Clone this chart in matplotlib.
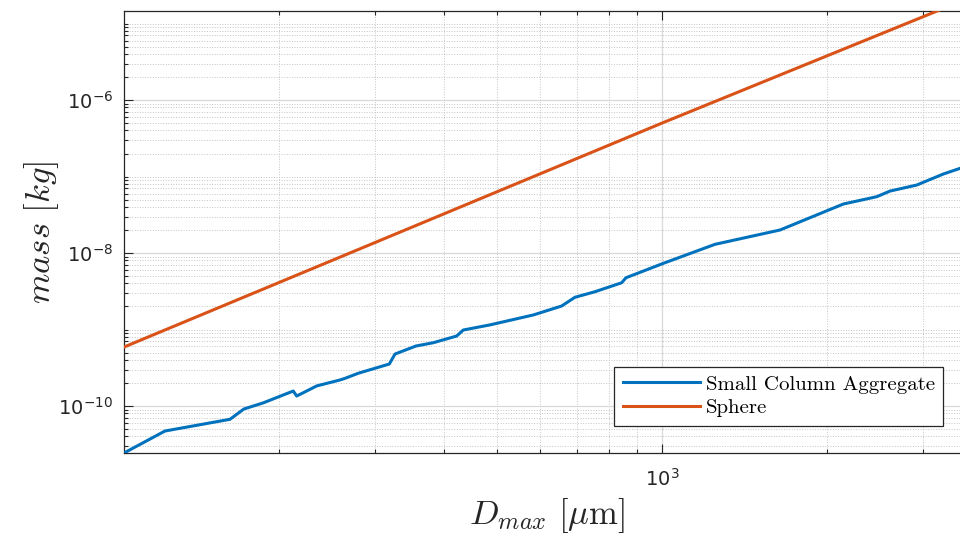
import numpy as np
import matplotlib
matplotlib.use("Agg")
import matplotlib.pyplot as plt
from matplotlib.ticker import FixedLocator, LogLocator, LogFormatterSciNotation, NullFormatter

plt.rcParams['mathtext.fontset'] = 'cm'
plt.rcParams['font.family'] = ['DejaVu Sans']

# ---- data ----
d_agg = [104.3, 123.9, 162.8, 172.6, 187.3, 212.4, 215.5, 234.4, 258.5, 264.0,
         279.1, 318.0, 325.7, 355.7, 382.5, 422.0, 433.9, 485.6, 582.4, 656.1,
         693.7, 754.7, 844.3, 859.6, 1005.5, 1249.6, 1642, 2142, 2465, 2607,
         2916, 3262, 3499, 3725]
m_agg = [2.43e-11, 4.71e-11, 6.70e-11, 9.14e-11, 1.10e-10, 1.57e-10, 1.35e-10,
         1.83e-10, 2.19e-10, 2.30e-10, 2.68e-10, 3.54e-10, 4.78e-10, 6.09e-10,
         6.72e-10, 8.22e-10, 9.85e-10, 1.15e-9, 1.55e-9, 2.03e-9, 2.64e-9,
         3.12e-9, 4.09e-9, 4.75e-9, 7.33e-9, 1.30e-8, 2.00e-8, 4.37e-8,
         5.45e-8, 6.46e-8, 7.74e-8, 1.08e-7, 1.28e-7, 1.50e-7]
d_sph = [104.3, 1000, 3300]
m_sph = [5.9e-10, 5.0e-7, 1.63e-5]

series_labels = ['Small Column Aggregate', 'Sphere']
y_major_ticks = [1e-10, 1e-8, 1e-6]
x_major_ticks = [1e2, 1e3, 1e4]

W, H = 960, 538
fig = plt.figure(figsize=(W / 100, H / 100), dpi=100)
ax_l, ax_r, ax_t, ax_b = 124, 970, 11, 453
ax = fig.add_axes([ax_l / W, 1 - ax_b / H, (ax_r - ax_l) / W, (ax_b - ax_t) / H])

ax.plot(d_agg, m_agg, color='#0072BD', lw=2.2, label=series_labels[0], zorder=3)
ax.plot(d_sph, m_sph, color='#D95319', lw=2.2, label=series_labels[1], zorder=3)

ax.set_xscale('log')
ax.set_yscale('log')
ax.set_xlim(104.3, 3648)
ax.set_ylim(2.43e-11, 1.46e-5)

ax.xaxis.set_major_locator(FixedLocator(x_major_ticks))
ax.yaxis.set_major_locator(FixedLocator(y_major_ticks))
ax.xaxis.set_minor_locator(LogLocator(base=10, subs=np.arange(1, 10), numticks=100))
ax.yaxis.set_minor_locator(LogLocator(base=10, subs=np.arange(1, 10), numticks=100))
ax.xaxis.set_major_formatter(LogFormatterSciNotation())
ax.yaxis.set_major_formatter(LogFormatterSciNotation())
ax.xaxis.set_minor_formatter(NullFormatter())
ax.yaxis.set_minor_formatter(NullFormatter())

spine_c = '#262626'
for s in ax.spines.values():
    s.set_color(spine_c)
    s.set_linewidth(0.9)
ax.tick_params(which='both', direction='in', top=True, right=True, colors=spine_c,
               labelsize=14, width=0.8)
ax.tick_params(which='major', length=6.5)
ax.tick_params(which='minor', length=3)
ax.tick_params(axis='x', which='major', pad=11)
ax.tick_params(axis='y', which='major', pad=8)

ax.grid(True, which='major', color='#d8d8d8', lw=0.9, ls='-')
ax.grid(True, which='minor', color='#c4c4c4', lw=0.7, ls=':')
ax.set_axisbelow(True)

ax.set_xlabel(r'$D_{max}\ [\mu\mathrm{m}]$', fontsize=25, color='#262626')
ax.set_ylabel(r'$mass\ [kg]$', fontsize=25, color='#262626')
ax.xaxis.set_label_coords(0.5, -0.097)
ax.yaxis.set_label_coords(-0.075, 0.5)

leg_right_px, leg_bottom_px = 943.3, 425.7
leg = ax.legend(loc='lower right',
                bbox_to_anchor=((leg_right_px - ax_l) / (ax_r - ax_l),
                                (ax_b - leg_bottom_px) / (ax_b - ax_t)),
                borderaxespad=0, prop={'family': 'cmr10', 'size': 15},
                handlelength=3.7, handletextpad=0.3, labelspacing=0.25,
                borderpad=0.4, fancybox=False, framealpha=1, edgecolor=spine_c)
leg.get_frame().set_linewidth(0.9)

fig.savefig('out.png', dpi=100, facecolor='white')
